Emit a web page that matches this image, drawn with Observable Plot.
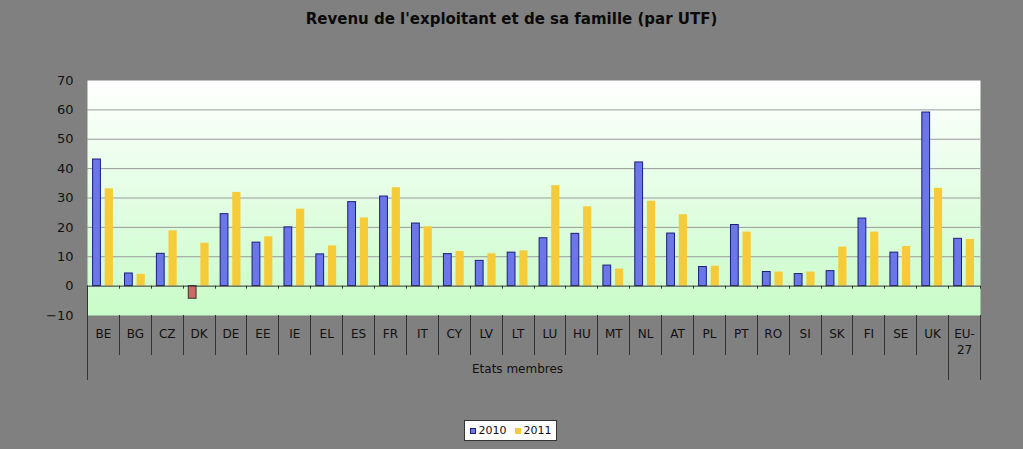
<!DOCTYPE html>
<html><head><meta charset="utf-8">
<script src="https://cdn.jsdelivr.net/npm/d3@7"></script>
<script src="https://cdn.jsdelivr.net/npm/@observablehq/plot@0.6"></script>
<style>
html,body{margin:0;padding:0;background:#808080;width:1023px;height:449px;overflow:hidden;font-family:"DejaVu Sans",Verdana,sans-serif;}
#title{position:absolute;left:0;top:0;width:1023px;height:38px;line-height:38px;text-align:center;font-weight:bold;font-size:15px;color:#0a0a0a;}
#chart{position:absolute;left:0;top:40px;}
#legend{position:absolute;left:464px;top:420px;width:93px;height:21px;background:#fff;border:1px solid #333;box-sizing:border-box;font-size:11px;color:#111;display:flex;align-items:center;justify-content:center;}
#legend .sw{display:inline-block;width:6px;height:6px;margin-right:3px;box-sizing:border-box;}
#legend .it{display:flex;align-items:center;margin:0 4px;}
</style></head><body>
<div id="title">Revenu de l'exploitant et de sa famille (par UTF)</div>
<div id="chart"></div>
<div id="legend"></div>
<script>
const countries = ["BE","BG","CZ","DK","DE","EE","IE","EL","ES","FR","IT","CY","LV","LT","LU","HU","MT","NL","AT","PL","PT","RO","SI","SK","FI","SE","UK","EU-27"];
const values2010 = [43.1,4.3,11.0,-4.3,24.5,14.8,20.0,10.8,28.6,30.5,21.3,10.9,8.6,11.4,16.3,17.8,7.0,42.1,17.9,6.5,20.8,4.8,4.1,5.1,23.0,11.4,59.1,16.1];
const values2011 = [33.1,4.0,18.8,14.6,31.9,16.8,26.2,13.7,23.2,33.5,20.2,11.8,11.0,12.0,34.2,27.0,5.8,28.9,24.3,6.8,18.4,4.8,4.8,13.3,18.4,13.5,33.3,15.9];
const years = ["2010","2011"];
const yTicks = [-10,0,10,20,30,40,50,60,70];
const gridTicks = [10,20,30,40,50,60];
const xTitle = "Etats membres";
const groupEnd = "UK";

const c2010 = "#6b77e8", c2010Stroke = "#1c1c7a", cNeg = "#d06a66", c2011 = "#f5cb3a";

const d2010 = countries.map((c,i) => ({country:c, value: values2010[i]}));
const d2011 = countries.map((c,i) => ({country:c, value: values2011[i]}));

const W = 1023, H = 370;
const plot = Plot.plot({
  width: W, height: H,
  marginLeft: 87, marginRight: 43, marginTop: 40, marginBottom: 95,
  style: {background: "transparent", fontFamily: "'DejaVu Sans', Verdana, sans-serif", color: "#111"},
  x: {type: "band", domain: countries, padding: 0, round: false},
  y: {domain: [-10, 70]},
  marks: [
    Plot.frame({fill: "url(#bgGrad)", stroke: null}),
    Plot.ruleY(gridTicks, {stroke: "#9a9a9a", strokeWidth: 1}),
    Plot.barY(d2010.filter(d => d.value >= 0), {x: "country", y: "value", fill: c2010, stroke: c2010Stroke, strokeWidth: 1, insetLeft: 5.6, insetRight: 18.5}),
    Plot.barY(d2010.filter(d => d.value < 0), {x: "country", y: "value", fill: cNeg, stroke: "#333", strokeWidth: 1, insetLeft: 5.6, insetRight: 18.5}),
    Plot.barY(d2011, {x: "country", y: "value", fill: c2011, insetLeft: 17.7, insetRight: 6}),
    Plot.ruleY([0], {stroke: "#333", strokeWidth: 1}),
    Plot.axisY({ticks: yTicks, tickSize: 0, tickPadding: 14, fontSize: 13, label: null}),
    Plot.axisX({tickSize: 0, tickPadding: 11, fontSize: 12, label: null, lineHeight: 1.35,
      tickFormat: d => d === "EU-27" ? "EU-\n27" : d})
  ]
});

// gradient definition for plot-area background
const svg = d3.select(plot);
const defs = svg.insert("defs", ":first-child");
const g = defs.append("linearGradient").attr("id","bgGrad").attr("x1",0).attr("y1",0).attr("x2",0).attr("y2",1);
g.append("stop").attr("offset","0").attr("stop-color","#ffffff");
g.append("stop").attr("offset","1").attr("stop-color","#c8fcc8");

// category separators drawn from the library's scales
const x = plot.scale("x"), y = plot.scale("y");
const bw = x.bandwidth;
const yBottom = y.apply(-10), yZero = y.apply(0);
const deco = svg.append("g").attr("stroke", "#333").attr("stroke-width", 1);
const bounds = countries.map(c => x.apply(c)).concat([x.apply(countries[countries.length-1]) + bw]);
const gi = countries.indexOf(groupEnd) + 1;
bounds.forEach((bx, i) => {
  const long = (i === 0 || i === gi || i === bounds.length - 1);
  const xx = Math.round(bx) + 0.5;
  deco.append("line").attr("x1", xx).attr("x2", xx)
    .attr("y1", i === 0 ? yZero : yBottom).attr("y2", yBottom + (long ? 65 : 40));
  deco.append("line").attr("x1", xx).attr("x2", xx).attr("y1", yZero).attr("y2", yZero + 3);
});
svg.append("text")
  .attr("x", (x.apply(countries[0]) + x.apply(groupEnd) + bw) / 2)
  .attr("y", yBottom + 58)
  .attr("text-anchor", "middle").attr("font-size", 12).attr("fill", "#111")
  .text(xTitle);

document.getElementById("chart").appendChild(plot);

const leg = document.getElementById("legend");
const legColors = [[c2010, c2010Stroke], [c2011, null]];
years.forEach((yr, i) => {
  const it = document.createElement("span"); it.className = "it";
  const sw = document.createElement("span"); sw.className = "sw";
  sw.style.background = legColors[i][0];
  if (legColors[i][1]) sw.style.border = "1px solid " + legColors[i][1];
  it.appendChild(sw);
  it.appendChild(document.createTextNode(yr));
  leg.appendChild(it);
});
</script>
</body></html>
